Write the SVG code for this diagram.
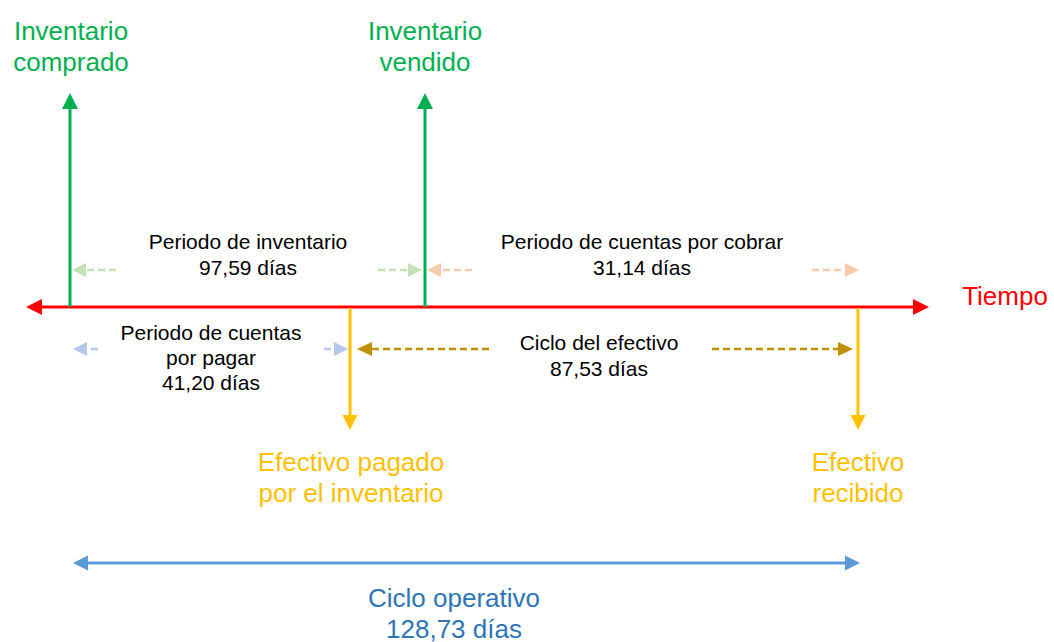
<svg xmlns="http://www.w3.org/2000/svg" width="1054" height="642" viewBox="0 0 1054 642">
<style>
text{font-family:"Liberation Sans",Arial,sans-serif;text-anchor:middle}
.big{font-size:26px}
.sm{font-size:21px;fill:#000}
.g{fill:#00b050}.r{fill:#ff0000}.y{fill:#ffc000}.b{fill:#2e75b6}
.ln{fill:none;stroke-width:3}
.ds{fill:none;stroke-width:2.5;stroke-dasharray:7,4}
</style>
<defs>
<marker id="mRed" markerUnits="userSpaceOnUse" markerWidth="16" markerHeight="16" refX="0" refY="8" orient="auto-start-reverse"><path d="M0,0L16,8L0,16z" fill="#ff0000"/></marker>
<marker id="mGreen" markerUnits="userSpaceOnUse" markerWidth="16" markerHeight="16" refX="0" refY="8" orient="auto-start-reverse"><path d="M0,0L16,8L0,16z" fill="#00b050"/></marker>
<marker id="mYellow" markerUnits="userSpaceOnUse" markerWidth="16" markerHeight="16" refX="0" refY="8" orient="auto-start-reverse"><path d="M0,0.5L15,8L0,15.5z" fill="#ffc000"/></marker>
<marker id="mBlue" markerUnits="userSpaceOnUse" markerWidth="16" markerHeight="16" refX="0" refY="8" orient="auto-start-reverse"><path d="M0,0.5L15,8L0,15.5z" fill="#5b9bd5"/></marker>
<marker id="mGold" markerUnits="userSpaceOnUse" markerWidth="16" markerHeight="16" refX="0" refY="8" orient="auto-start-reverse"><path d="M0,1L15,8L0,15z" fill="#bf9000"/></marker>
<marker id="mLG" markerUnits="userSpaceOnUse" markerWidth="16" markerHeight="16" refX="0" refY="8" orient="auto-start-reverse"><path d="M0,1L14,8L0,15z" fill="#c5e0b4"/></marker>
<marker id="mPe" markerUnits="userSpaceOnUse" markerWidth="16" markerHeight="16" refX="0" refY="8" orient="auto-start-reverse"><path d="M0,1L14,8L0,15z" fill="#f8cbad"/></marker>
<marker id="mLB" markerUnits="userSpaceOnUse" markerWidth="16" markerHeight="16" refX="0" refY="8" orient="auto-start-reverse"><path d="M0,1L14,8L0,15z" fill="#b4c7e7"/></marker>
</defs>
<g id="connectors">
<path class="ln" stroke="#ff0000" d="M42,307H913" marker-start="url(#mRed)" marker-end="url(#mRed)"/>
<path class="ln" stroke="#00b050" d="M70,307V109" marker-end="url(#mGreen)"/>
<path class="ln" stroke="#00b050" d="M425,307V109" marker-end="url(#mGreen)"/>
<path class="ln" stroke="#ffc000" stroke-width="2.5" d="M350,308V415" marker-end="url(#mYellow)"/>
<path class="ln" stroke="#ffc000" stroke-width="2.5" d="M858,308V415" marker-end="url(#mYellow)"/>
<path class="ln" stroke="#5b9bd5" d="M88,563H845" marker-start="url(#mBlue)" marker-end="url(#mBlue)"/>
<path class="ds" stroke="#c5e0b4" d="M116,270H86" marker-end="url(#mLG)"/>
<path class="ds" stroke="#c5e0b4" d="M378,270H408" marker-end="url(#mLG)"/>
<path class="ds" stroke="#f8cbad" d="M472,270H441" marker-end="url(#mPe)"/>
<path class="ds" stroke="#f8cbad" d="M812,270H845" marker-end="url(#mPe)"/>
<path class="ds" stroke="#b4c7e7" stroke-dasharray="4,3" d="M98,349H87" marker-end="url(#mLB)"/>
<path class="ds" stroke="#b4c7e7" stroke-dasharray="4,3" d="M324,349H334" marker-end="url(#mLB)"/>
<path class="ds" stroke="#bf9000" d="M489,349H372" marker-end="url(#mGold)"/>
<path class="ds" stroke="#bf9000" d="M712,349H838" marker-end="url(#mGold)"/>
</g>
<g id="inv-comprado"><text class="big g" x="71" y="40">Inventario</text><text class="big g" x="71" y="71">comprado</text></g>
<g id="inv-vendido"><text class="big g" x="425" y="40">Inventario</text><text class="big g" x="425" y="71">vendido</text></g>
<g id="tiempo"><text class="big r" x="1005" y="305">Tiempo</text></g>
<g id="periodo-inventario"><text class="sm" x="248" y="249">Periodo de inventario</text><text class="sm" x="248" y="275">97,59 días</text></g>
<g id="periodo-cobrar"><text class="sm" x="642" y="249">Periodo de cuentas por cobrar</text><text class="sm" x="642" y="275">31,14 días</text></g>
<g id="periodo-pagar"><text class="sm" x="211" y="340">Periodo de cuentas</text><text class="sm" x="211" y="365">por pagar</text><text class="sm" x="211" y="390">41,20 días</text></g>
<g id="ciclo-efectivo"><text class="sm" x="599" y="350">Ciclo del efectivo</text><text class="sm" x="599" y="376">87,53 días</text></g>
<g id="efectivo-pagado"><text class="big y" x="351" y="471">Efectivo pagado</text><text class="big y" x="351" y="502">por el inventario</text></g>
<g id="efectivo-recibido"><text class="big y" x="858" y="471">Efectivo</text><text class="big y" x="858" y="502">recibido</text></g>
<g id="ciclo-operativo"><text class="big b" x="454" y="607">Ciclo operativo</text><text class="big b" x="454" y="638">128,73 días</text></g>
</svg>
